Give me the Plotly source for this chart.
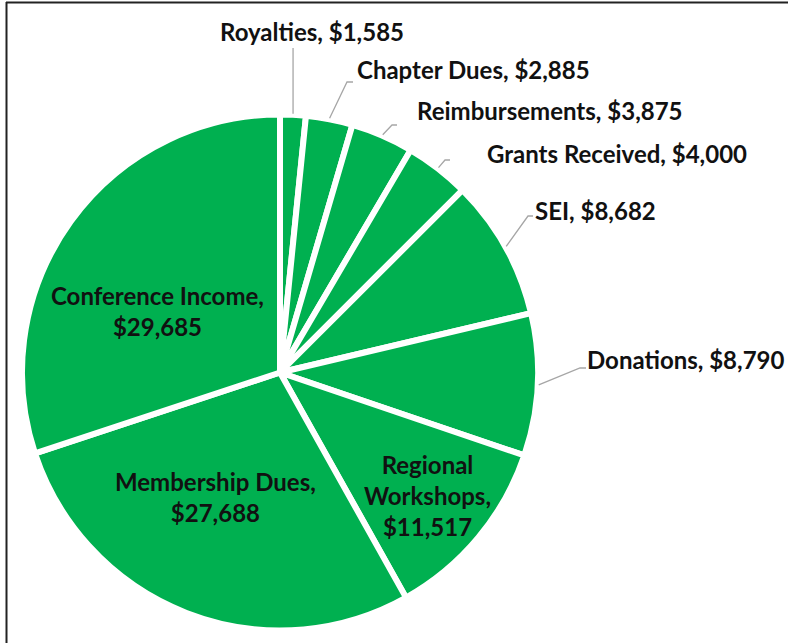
import math
import plotly.graph_objects as go

# ---- data ----
categories = ["Royalties", "Chapter Dues", "Reimbursements", "Grants Received", "SEI",
              "Donations", "Regional Workshops", "Membership Dues", "Conference Income"]
values = [1585, 2885, 3875, 4000, 8682, 8790, 11517, 27688, 29685]
label_text = ["Royalties, $1,585", "Chapter Dues, $2,885", "Reimbursements, $3,875",
              "Grants Received, $4,000", "SEI, $8,682", "Donations, $8,790",
              "Regional<br>Workshops,<br>$11,517", "Membership Dues,<br>$27,688",
              "Conference Income,<br>$29,685"]

# ---- layout config (pixels) ----
W, H = 788, 643
CX, CY, R = 280, 372.5, 258
GREEN = "#00B050"
TXT = "#111111"
FONT = "Lato"
FS = 24

def X(x):
    return x / W

def Y(y):
    return 1 - y / H

# outside label placement: (text left x, text center y, elbow x, elbow y, tail)
outside = {
    "Royalties": (218, 32, None, 48, 0),
    "Chapter Dues": (355, 70, 347, 82, 6),
    "Reimbursements": (415, 110, 392, 125, 5),
    "Grants Received": (485, 153, 445, 160, 5),
    "SEI": (533, 210, 528, 216, 5),
    "Donations": (585, 359, 580, 368, 6),
}
# inside label placement: center x, center y
inside = {
    "Regional Workshops": (427, 496),
    "Membership Dues": (215, 497),
    "Conference Income": (157, 311),
}

fig = go.Figure(go.Pie(
    labels=categories, values=values, sort=False, direction="clockwise", rotation=0,
    textinfo="none", hoverinfo="label+value",
    marker=dict(colors=[GREEN] * len(values), line=dict(color="white", width=6)),
    domain=dict(x=[X(CX - R), X(CX + R)], y=[Y(CY + R), Y(CY - R)]),
    showlegend=False,
))

total = sum(values)
cum = 0
shapes = []
annotations = []
for cat, v, txt in zip(categories, values, label_text):
    mid = (cum + v / 2) / total * 2 * math.pi
    cum += v
    if cat in outside:
        lx, ly, ex, ey, tail = outside[cat]
        rl = R + 1
        sx = CX + rl * math.sin(mid)
        sy = CY - rl * math.cos(mid)
        if ex is None:
            ex = sx
        path = f"M {X(sx)},{Y(sy)} L {X(ex)},{Y(ey)} L {X(ex + tail)},{Y(ey)}"
        shapes.append(dict(type="path", xref="paper", yref="paper", path=path,
                           line=dict(color="#a6a6a6", width=1.3)))
        annotations.append(dict(text=txt, x=X(lx), y=Y(ly), xref="paper", yref="paper",
                                xanchor="left", yanchor="middle", showarrow=False,
                                font=dict(family=FONT, size=FS, color=TXT, weight="bold")))
    else:
        tx, ty = inside[cat]
        annotations.append(dict(text=txt, x=X(tx), y=Y(ty), xref="paper", yref="paper",
                                xanchor="center", yanchor="middle", align="center",
                                showarrow=False,
                                font=dict(family=FONT, size=FS, color=TXT, weight="bold")))

# frame (top and left edges of the cropped chart border)
shapes.append(dict(type="line", xref="paper", yref="paper", x0=X(6), x1=1.0, y0=Y(2.5), y1=Y(2.5),
                   line=dict(color="#222", width=2)))
shapes.append(dict(type="line", xref="paper", yref="paper", x0=X(6.5), x1=X(6.5), y0=Y(2), y1=0.0,
                   line=dict(color="#222", width=2)))

fig.update_layout(
    width=W, height=H, margin=dict(l=0, r=0, t=0, b=0),
    paper_bgcolor="white", plot_bgcolor="white",
    shapes=shapes, annotations=annotations,
)
fig.write_html("out.html", config={"displayModeBar": False},
               post_script="document.body.style.margin='0px';document.body.style.overflow='hidden';")
